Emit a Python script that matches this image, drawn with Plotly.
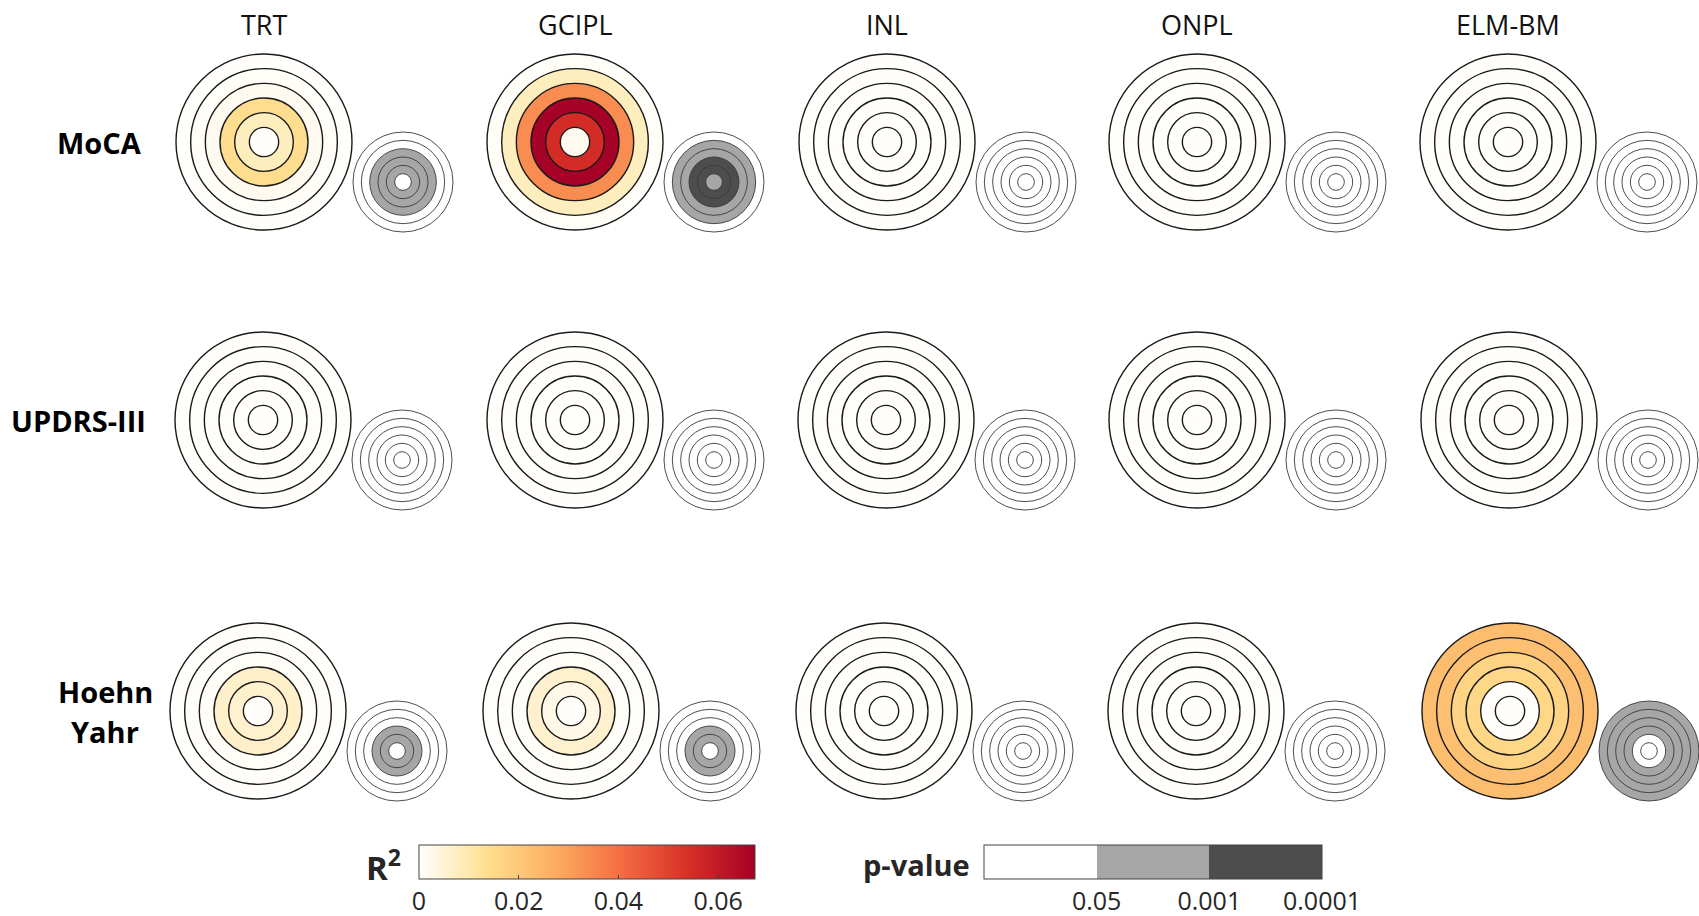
import plotly.graph_objects as go

# Retinal layers (columns) and clinical scores (rows)
LAYERS = ["TRT", "GCIPL", "INL", "ONPL", "ELM-BM"]
SCORES = ["MoCA", "UPDRS-III", "Hoehn<br>Yahr"]

# R² per layer: centre disc first, then the five rings moving outward
R2_MOCA = [
    [0.0006, 0.0080, 0.0140, 0.0020, 0.0010, 0.0006],
    [0.0020, 0.0550, 0.0670, 0.0340, 0.0080, 0.0008],
    [0.0006, 0.0005, 0.0006, 0.0005, 0.0006, 0.0006],
    [0.0006, 0.0006, 0.0005, 0.0006, 0.0006, 0.0005],
    [0.0006, 0.0005, 0.0006, 0.0006, 0.0005, 0.0006],
]
R2_UPDRS = [
    [0.0005, 0.0006, 0.0006, 0.0005, 0.0006, 0.0006],
    [0.0006, 0.0005, 0.0006, 0.0006, 0.0005, 0.0006],
    [0.0006, 0.0006, 0.0005, 0.0006, 0.0006, 0.0005],
    [0.0005, 0.0006, 0.0006, 0.0005, 0.0006, 0.0006],
    [0.0006, 0.0005, 0.0006, 0.0006, 0.0006, 0.0005],
]
R2_HY = [
    [0.0005, 0.0060, 0.0065, 0.0010, 0.0007, 0.0006],
    [0.0006, 0.0030, 0.0060, 0.0010, 0.0007, 0.0006],
    [0.0006, 0.0005, 0.0006, 0.0006, 0.0005, 0.0006],
    [0.0006, 0.0006, 0.0005, 0.0006, 0.0006, 0.0005],
    [0.0004, 0.0006, 0.0160, 0.0170, 0.0220, 0.0230],
]

# p-value class per ring: 0 -> p >= 0.05, 1 -> p < 0.05, 2 -> p < 0.001
P_MOCA = [
    [0, 1, 1, 1, 0, 0],
    [1, 2, 2, 1, 1, 0],
    [0, 0, 0, 0, 0, 0],
    [0, 0, 0, 0, 0, 0],
    [0, 0, 0, 0, 0, 0],
]
P_UPDRS = [
    [0, 0, 0, 0, 0, 0],
    [0, 0, 0, 0, 0, 0],
    [0, 0, 0, 0, 0, 0],
    [0, 0, 0, 0, 0, 0],
    [0, 0, 0, 0, 0, 0],
]
P_HY = [
    [0, 1, 1, 0, 0, 0],
    [0, 1, 1, 0, 0, 0],
    [0, 0, 0, 0, 0, 0],
    [0, 0, 0, 0, 0, 0],
    [0, 0, 1, 1, 1, 1],
]

R2_TICKS = [0, 0.02, 0.04, 0.06]
R2_TICKTEXT = ["0", "0.02", "0.04", "0.06"]
R2_MAX = 0.0674
P_TICKTEXT = ["0.05", "0.001", "0.0001"]

R2_ROWS = [R2_MOCA, R2_UPDRS, R2_HY]
P_ROWS = [P_MOCA, P_UPDRS, P_HY]

# ---- layout (pixel coordinates on a 1699 x 916 canvas) ----
W, H = 1699, 916
CELL_X = [
    [264, 575, 887, 1197, 1508],
    [263, 575, 886, 1197, 1509],
    [258, 571, 884, 1196, 1510],
]
ROW_Y = [142, 420, 711]
SMALL_DX, SMALL_DY = 139, 40
BIG_STEP = 88 / 6      # ring width of the R² target
SMALL_STEP = 50 / 6    # ring width of the p-value target
LABEL_X = [99, 78, 105]
LINE_GAP = 40
FONT = "Open Sans"

R2_SCALE = [
    [0.0, "#FFFFFF"],
    [0.2, "#FEE090"],
    [0.4, "#FDAE61"],
    [0.6, "#F46D43"],
    [0.8, "#D73027"],
    [1.0, "#A50026"],
]
P_SCALE = [
    [0.0, "#FFFFFF"], [1 / 3, "#FFFFFF"],
    [1 / 3, "#A6A6A6"], [2 / 3, "#A6A6A6"],
    [2 / 3, "#4D4D4D"], [1.0, "#4D4D4D"],
]

bx, by, bs, bc = [], [], [], []
sx, sy, ss, sc = [], [], [], []
for r, (r2_row, p_row) in enumerate(zip(R2_ROWS, P_ROWS)):
    for c in range(len(LAYERS)):
        cx, cy = CELL_X[r][c], ROW_Y[r]
        # draw outermost ring first so inner discs sit on top
        for k in range(5, -1, -1):
            bx.append(cx)
            by.append(cy)
            bs.append(2 * BIG_STEP * (k + 1))
            bc.append(r2_row[c][k])
            sx.append(cx + SMALL_DX)
            sy.append(cy + SMALL_DY)
            ss.append(2 * SMALL_STEP * (k + 1))
            sc.append(p_row[c][k] + 0.5)

fig = go.Figure()
fig.add_trace(go.Scatter(
    x=bx, y=by, mode="markers", hoverinfo="skip", showlegend=False,
    marker=dict(size=bs, color=bc, coloraxis="coloraxis",
                line=dict(color="#1a1a1a", width=1.4), opacity=1),
))
fig.add_trace(go.Scatter(
    x=sx, y=sy, mode="markers", hoverinfo="skip", showlegend=False,
    marker=dict(size=ss, color=sc, coloraxis="coloraxis2",
                line=dict(color="#3a3a3a", width=0.9), opacity=1),
))

tickfont = dict(family=FONT, size=25, color="#262626")
BAR_TOP = 845
BAR_THICK = 34
fig.update_layout(
    width=W, height=H,
    margin=dict(l=0, r=0, t=0, b=0, autoexpand=False),
    paper_bgcolor="white", plot_bgcolor="white",
    xaxis=dict(range=[0, W], visible=False, fixedrange=True),
    yaxis=dict(range=[H, 0], visible=False, fixedrange=True),
    coloraxis=dict(
        colorscale=R2_SCALE, cmin=0, cmax=R2_MAX,
        colorbar=dict(
            orientation="h", x=587 / W, xanchor="center",
            y=1 - BAR_TOP / H, yanchor="top", len=336, lenmode="pixels",
            thickness=BAR_THICK, thicknessmode="pixels", xpad=0, ypad=0,
            outlinewidth=1, outlinecolor="#444444",
            ticks="inside", ticklen=4, tickcolor="#444444",
            tickvals=R2_TICKS, ticktext=R2_TICKTEXT, tickfont=tickfont,
        ),
    ),
    coloraxis2=dict(
        colorscale=P_SCALE, cmin=0, cmax=3,
        colorbar=dict(
            orientation="h", x=1153 / W, xanchor="center",
            y=1 - BAR_TOP / H, yanchor="top", len=338, lenmode="pixels",
            thickness=BAR_THICK, thicknessmode="pixels", xpad=0, ypad=0,
            outlinewidth=1, outlinecolor="#444444",
            ticks="", tickvals=[1, 2, 3], ticktext=P_TICKTEXT,
            tickfont=tickfont,
        ),
    ),
)

annotations = []
for c, name in enumerate(LAYERS):
    annotations.append(dict(
        x=CELL_X[0][c], y=24, xref="x", yref="y", text=name, showarrow=False,
        xanchor="center", yanchor="middle",
        font=dict(family=FONT, size=27, color="#111111"),
    ))
for r, name in enumerate(SCORES):
    lines = name.split("<br>")
    top = ROW_Y[r] - LINE_GAP * (len(lines) - 1) / 2
    for i, line in enumerate(lines):
        annotations.append(dict(
            x=LABEL_X[r], y=top + i * LINE_GAP, xref="x", yref="y",
            text=f"<b>{line}</b>", showarrow=False,
            xanchor="center", yanchor="middle",
            font=dict(family=FONT, size=29, color="#000000"),
        ))
annotations.append(dict(
    x=383, y=865, xref="x", yref="y", text="<b>R<sup>2</sup></b>",
    showarrow=False, xanchor="center", yanchor="middle",
    font=dict(family=FONT, size=33, color="#262626"),
))
annotations.append(dict(
    x=972, y=864, xref="x", yref="y", text="<b>p-value</b>",
    showarrow=False, xanchor="right", yanchor="middle",
    font=dict(family=FONT, size=29, color="#262626"),
))
fig.update_layout(annotations=annotations)

fig.write_html("out.html")
